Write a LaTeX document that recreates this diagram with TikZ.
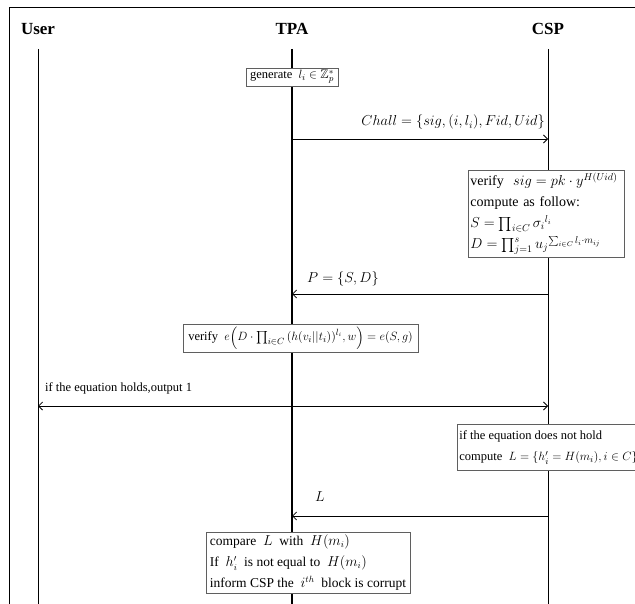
\documentclass[tikz,border=0pt]{standalone}
\usepackage{amssymb}
\usepackage{fontspec}
\setmainfont{Liberation Serif}
\usetikzlibrary{arrows.meta}
\definecolor{BoxLine}{RGB}{95,95,95}

\begin{document}
\begin{tikzpicture}[x=1pt, y=-1pt, >={Straight Barb[length=4pt,width=8pt]}]
	\tikzstyle{lane}=[line width=0.8pt]
	\tikzstyle{msg}=[line width=0.8pt]
	\tikzstyle{head}=[font=\fontsize{17}{20}\selectfont\bfseries]
	\tikzstyle{lbl}=[font=\fontsize{12.5}{15}\selectfont, inner sep=0pt]
	\tikzstyle{box}=[draw=BoxLine, line width=0.8pt, fill=white, align=left, inner sep=2pt, font=\fontsize{12.5}{21}\selectfont]
	\useasboundingbox (0,0) rectangle (635,604);
	% frame
	\draw[line width=0.8pt] (9,620) -- (9,7) -- (650,7) -- (650,620);
	% actors and lifelines
	\node[head] (user) at (38,29) {User};
	\node[head] (tpa) at (292,29) {TPA};
	\node[head] (csp) at (548,29) {CSP};
	\coordinate (userTop) at (38,49);
	\coordinate (tpaTop) at (292,49);
	\coordinate (cspTop) at (548,49);
	\coordinate (userEnd) at (38,610);
	\coordinate (tpaEnd) at (292,610);
	\coordinate (cspEnd) at (548,610);
	\draw[lane] (userTop) -- (userEnd);
	\draw[lane, line width=1.3pt] (tpaTop) -- (tpaEnd);
	\draw[lane] (cspTop) -- (cspEnd);
	% challenge
	\node[box, minimum width=92pt, minimum height=18pt, inner sep=1pt] (gen) at (292,77) {generate \ $l_i\in\mathbb{Z}_p^{*}$};
	\coordinate (tpa1) at (292,139);
	\coordinate (csp1) at (548,139);
	\draw[msg, ->] (tpa1) -- (csp1);
	\node[lbl, anchor=base east, font=\fontsize{14}{16}\selectfont] (challLbl) at (545,126) {$Chall=\{sig,(i,l_i),Fid,Uid\}$};
	% proof
	\node[box, anchor=north west, text width=152pt, minimum height=87pt, font=\fontsize{14}{21}\selectfont] (cspCalc) at (468,170)
		{verify \ $sig=pk\cdot y^{H(Uid)}$\\
		 compute as follow:\\
		 $S=\prod_{i\in C}\sigma_i{}^{l_i}$\\
		 $D=\prod_{j=1}^{s}u_j{}^{\sum_{i\in C}l_i\cdot m_{ij}}$};
	\coordinate (csp2) at (548,294);
	\coordinate (tpa2) at (292,294);
	\draw[msg, ->] (csp2) -- (tpa2);
	\node[lbl, font=\fontsize{13.5}{16}\selectfont] (proofLbl) at (343,279) {$P=\{S,D\}$};
	% verification
	\node[box, minimum width=235pt, minimum height=28pt] (tpaCheck) at (300.5,338)
		{verify \ $e\Big(D\cdot\prod_{i\in C}\big(h(v_i||t_i)\big)^{l_i},w\Big)=e(S,g)$};
	\coordinate (csp3) at (548,406);
	\coordinate (user3) at (38,406);
	\draw[msg, <->] (user3) -- (csp3);
	\node[lbl, anchor=west] (holdLbl) at (45,388) {if the equation holds,output 1};
	\node[box, anchor=north west, minimum height=46pt] (noHold) at (457,424)
		{if the equation does not hold\\
		 compute \ $L=\{h_i'=H(m_i),i\in C\}$};
	\coordinate (csp4) at (548,516);
	\coordinate (tpa4) at (292,516);
	\draw[msg, ->] (csp4) -- (tpa4);
	\node[lbl, font=\fontsize{13.5}{16}\selectfont] (listLbl) at (320,497) {$L$};
	\node[box, minimum width=204pt, minimum height=61pt, font=\fontsize{13.5}{21}\selectfont] (cmp) at (308,562.5)
		{compare \ $L$ \ with \ $H(m_i)$\\
		 If \ $h_i'$ \ is not equal to \ $H(m_i)$\\
		 inform CSP the \ $i^{th}$ \ block is corrupt};
\end{tikzpicture}
\end{document}
